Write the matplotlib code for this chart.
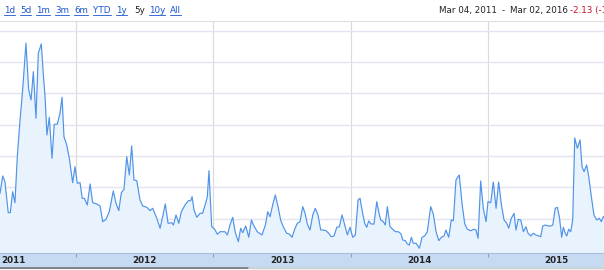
import matplotlib
matplotlib.use('Agg')
import matplotlib.pyplot as plt
from matplotlib.lines import Line2D

# decimal year / index level
years = [2011.446, 2011.466, 2011.482, 2011.506, 2011.521, 2011.538, 2011.555, 2011.572, 2011.592, 2011.611,
         2011.626, 2011.635, 2011.645, 2011.655, 2011.672, 2011.689, 2011.708, 2011.725, 2011.747, 2011.761,
         2011.774, 2011.788, 2011.805, 2011.825, 2011.841, 2011.863, 2011.883, 2011.898, 2011.912, 2011.932,
         2011.951, 2011.975, 2011.992, 2012.009, 2012.029, 2012.045, 2012.060, 2012.082, 2012.102, 2012.121,
         2012.150, 2012.175, 2012.194, 2012.218, 2012.242, 2012.271, 2012.291, 2012.311, 2012.330, 2012.349,
         2012.369, 2012.388, 2012.405, 2012.422, 2012.442, 2012.466, 2012.486, 2012.515, 2012.539, 2012.558,
         2012.588, 2012.612, 2012.636, 2012.650, 2012.670, 2012.697, 2012.709, 2012.728, 2012.748, 2012.767,
         2012.794, 2012.818, 2012.835, 2012.845, 2012.859, 2012.879, 2012.903, 2012.922, 2012.947, 2012.956,
         2012.968, 2012.988, 2013.010, 2013.029, 2013.049, 2013.085, 2013.102, 2013.121, 2013.141, 2013.160,
         2013.182, 2013.199, 2013.214, 2013.236, 2013.258, 2013.277, 2013.296, 2013.320, 2013.354, 2013.379,
         2013.396, 2013.413, 2013.432, 2013.451, 2013.471, 2013.490, 2013.509, 2013.534, 2013.553, 2013.573,
         2013.595, 2013.612, 2013.631, 2013.651, 2013.668, 2013.684, 2013.704, 2013.724, 2013.742, 2013.762,
         2013.782, 2013.801, 2013.821, 2013.840, 2013.859, 2013.879, 2013.899, 2013.918, 2013.937, 2013.957,
         2013.976, 2013.995, 2014.015, 2014.034, 2014.054, 2014.068, 2014.083, 2014.102, 2014.117, 2014.131,
         2014.150, 2014.170, 2014.190, 2014.204, 2014.219, 2014.238, 2014.252, 2014.267, 2014.287, 2014.306,
         2014.325, 2014.347, 2014.367, 2014.379, 2014.398, 2014.413, 2014.427, 2014.442, 2014.456, 2014.476,
         2014.485, 2014.500, 2014.520, 2014.539, 2014.558, 2014.583, 2014.602, 2014.622, 2014.642, 2014.660,
         2014.680, 2014.694, 2014.714, 2014.733, 2014.748, 2014.767, 2014.791, 2014.811, 2014.831, 2014.850,
         2014.874, 2014.899, 2014.913, 2014.928, 2014.947, 2014.966, 2014.986, 2015.000, 2015.020, 2015.039,
         2015.059, 2015.078, 2015.097, 2015.117, 2015.137, 2015.151, 2015.170, 2015.190, 2015.204, 2015.221,
         2015.239, 2015.258, 2015.277, 2015.292, 2015.311, 2015.330, 2015.350, 2015.370, 2015.384, 2015.399,
         2015.418, 2015.438, 2015.457, 2015.472, 2015.490, 2015.505, 2015.520, 2015.537, 2015.549, 2015.563,
         2015.574, 2015.588, 2015.603, 2015.617, 2015.632, 2015.651, 2015.671, 2015.685, 2015.700, 2015.719,
         2015.734, 2015.753, 2015.772, 2015.792, 2015.811, 2015.826, 2015.840, 2015.860]
level = [19.06, 21.82, 20.91, 15.96, 15.96, 19.31, 17.55, 24.90, 30.76, 35.55,
         40.34, 43.01, 39.27, 35.55, 33.96, 38.47, 31.03, 41.41, 42.90, 38.22,
         34.48, 28.37, 31.19, 24.64, 30.07, 30.07, 31.83, 34.39, 28.09, 26.77,
         24.64, 20.75, 23.30, 20.65, 20.75, 18.26, 18.26, 17.19, 20.54, 17.55,
         17.35, 17.03, 14.52, 14.90, 16.12, 19.42, 17.46, 16.28, 19.15, 19.69,
         24.90, 21.98, 26.61, 21.18, 21.07, 17.99, 17.03, 16.82, 16.28, 16.66,
         15.06, 13.47, 15.86, 17.35, 14.26, 14.36, 13.99, 15.59, 14.26, 16.12,
         17.19, 17.87, 17.87, 18.51, 16.39, 15.22, 15.86, 15.86, 17.71, 18.51,
         22.66, 13.72, 13.31, 12.51, 12.92, 12.92, 12.40, 13.99, 15.22, 12.76,
         11.33, 13.47, 12.76, 13.83, 12.03, 14.79, 13.83, 12.92, 12.40, 13.99,
         16.12, 15.32, 17.19, 18.78, 16.92, 14.79, 13.72, 12.67, 12.56, 12.03,
         13.47, 14.26, 14.52, 16.92, 15.86, 14.15, 13.19, 15.59, 16.66, 15.59,
         13.19, 13.19, 13.08, 12.67, 12.12, 12.24, 13.63, 13.72, 15.59, 13.99,
         12.40, 13.63, 12.03, 12.40, 17.99, 18.26, 16.39, 14.26, 13.63, 14.63,
         14.15, 14.15, 17.71, 16.12, 14.79, 14.52, 13.99, 16.92, 13.72, 13.31,
         12.92, 12.92, 12.56, 11.60, 11.49, 10.96, 10.80, 12.03, 11.07, 11.07,
         10.80, 10.27, 12.03, 12.24, 12.92, 16.92, 15.75, 12.92, 11.49, 12.03,
         12.24, 13.19, 12.03, 14.79, 14.68, 21.18, 21.98, 17.46, 14.15, 13.31,
         13.08, 13.31, 13.19, 11.87, 21.02, 16.66, 14.52, 17.71, 17.55, 20.86,
         16.66, 20.86, 17.40, 14.79, 14.26, 13.47, 15.06, 15.86, 13.19, 14.90,
         14.79, 12.92, 13.72, 12.67, 12.24, 12.67, 12.40, 12.24, 12.12, 13.83,
         13.99, 13.83, 13.83, 13.99, 16.66, 16.82, 15.32, 12.03, 13.63, 12.67,
         12.24, 13.31, 12.92, 14.79, 27.89, 26.24, 27.57, 23.30, 22.50, 23.57,
         21.71, 18.51, 15.59, 14.79, 15.06, 14.52, 15.32, 15.00]

year_ticks = [2012, 2013, 2014, 2015]
year_labels = ['2011', '2012', '2013', '2014', '2015']
level_grid = [10, 15, 20, 25, 30, 35, 40, 45]

links = ['1d', '5d', '1m', '3m', '6m', 'YTD', '1y', '5y', '10y', 'All']
link_x = [4, 20, 36, 55, 74, 93, 116, 134, 149, 170]

W, H = 604, 270
x0, x1 = 2011.446, 2011.446 + 604 / 137.3

fig = plt.figure(figsize=(W / 100, H / 100), dpi=100)
fig.patch.set_facecolor('white')

# main plot area
ax = fig.add_axes([0, (H - 253) / H, 1, (253 - 21) / H])
ax.fill_between(years, level, 0, color='#e9f3fd', lw=0)
ax.plot(years, level, color='#4f93e8', lw=0.85)
ax.set_xlim(x0, x1)
ax.set_ylim(9.52, 46.56)
ax.set_xticks(year_ticks)
ax.set_yticks(level_grid)
ax.grid(axis='y', color='#e4e4f0', lw=1.0)
ax.grid(axis='x', color='#dadada', lw=0.8)
ax.set_axisbelow(True)
ax.tick_params(length=0, labelbottom=False, labelleft=False)
for s in ['left', 'right', 'bottom']:
    ax.spines[s].set_visible(False)
ax.spines['top'].set_color('#dddddd')
ax.spines['top'].set_linewidth(0.8)

# year band under the plot
bx = fig.add_axes([0, (H - 267.5) / H, 1, 14.5 / H])
bx.set_facecolor('#c6daf2')
bx.set_xlim(x0, x1)
bx.set_ylim(0, 1)
bx.set_xticks(year_ticks)
bx.set_yticks([])
bx.tick_params(axis='x', direction='in', length=3, color='#8aa0bb', width=0.8,
               top=True, bottom=False, labelbottom=False)
for s in ['left', 'right']:
    bx.spines[s].set_visible(False)
bx.spines['top'].set_color('#a8c0de')
bx.spines['bottom'].set_color('#9fb6d4')
bx.text(x0 + 1 / 137.3, 0.45, year_labels[0], ha='left', va='center',
        fontsize=6.3, color='#222222', fontweight='semibold')
for yr, lab in zip(year_ticks, year_labels[1:]):
    bx.text(yr + 0.5, 0.45, lab, ha='center', va='center',
            fontsize=6.3, color='#222222', fontweight='semibold')

# navigator strip below band
fig.add_artist(Line2D([0, 248 / W], [1 - 268 / H] * 2, color='#777777', lw=1.2))
fig.add_artist(Line2D([248 / W, 1], [1 - 268 / H] * 2, color='#cfcfcf', lw=1.0))

# header: range links
for lab, px in zip(links, link_x):
    col = '#222222' if lab == '5y' else '#1a55cc'
    t = fig.text(px / W, 1 - 13 / H, lab, fontsize=6.3, color=col, ha='left', va='baseline')
    if lab != '5y':
        fig.canvas.draw()
        bb = t.get_window_extent()
        fig.add_artist(Line2D([bb.x0 / W, bb.x1 / W], [1 - 15 / H] * 2, color=col, lw=0.6))

# header: date range and change
fig.text(439 / W, 1 - 13 / H, 'Mar 04, 2011', fontsize=6.3, color='#222222', ha='left', va='baseline')
fig.text(502 / W, 1 - 13 / H, '-', fontsize=6.3, color='#222222', ha='left', va='baseline')
fig.text(510 / W, 1 - 13 / H, 'Mar 02, 2016', fontsize=6.3, color='#222222', ha='left', va='baseline')
fig.text(570 / W, 1 - 13 / H, '-2.13 (-1.20%)', fontsize=6.3, color='#c4122f', ha='left', va='baseline')

plt.savefig('out.png', dpi=100, facecolor='white')
